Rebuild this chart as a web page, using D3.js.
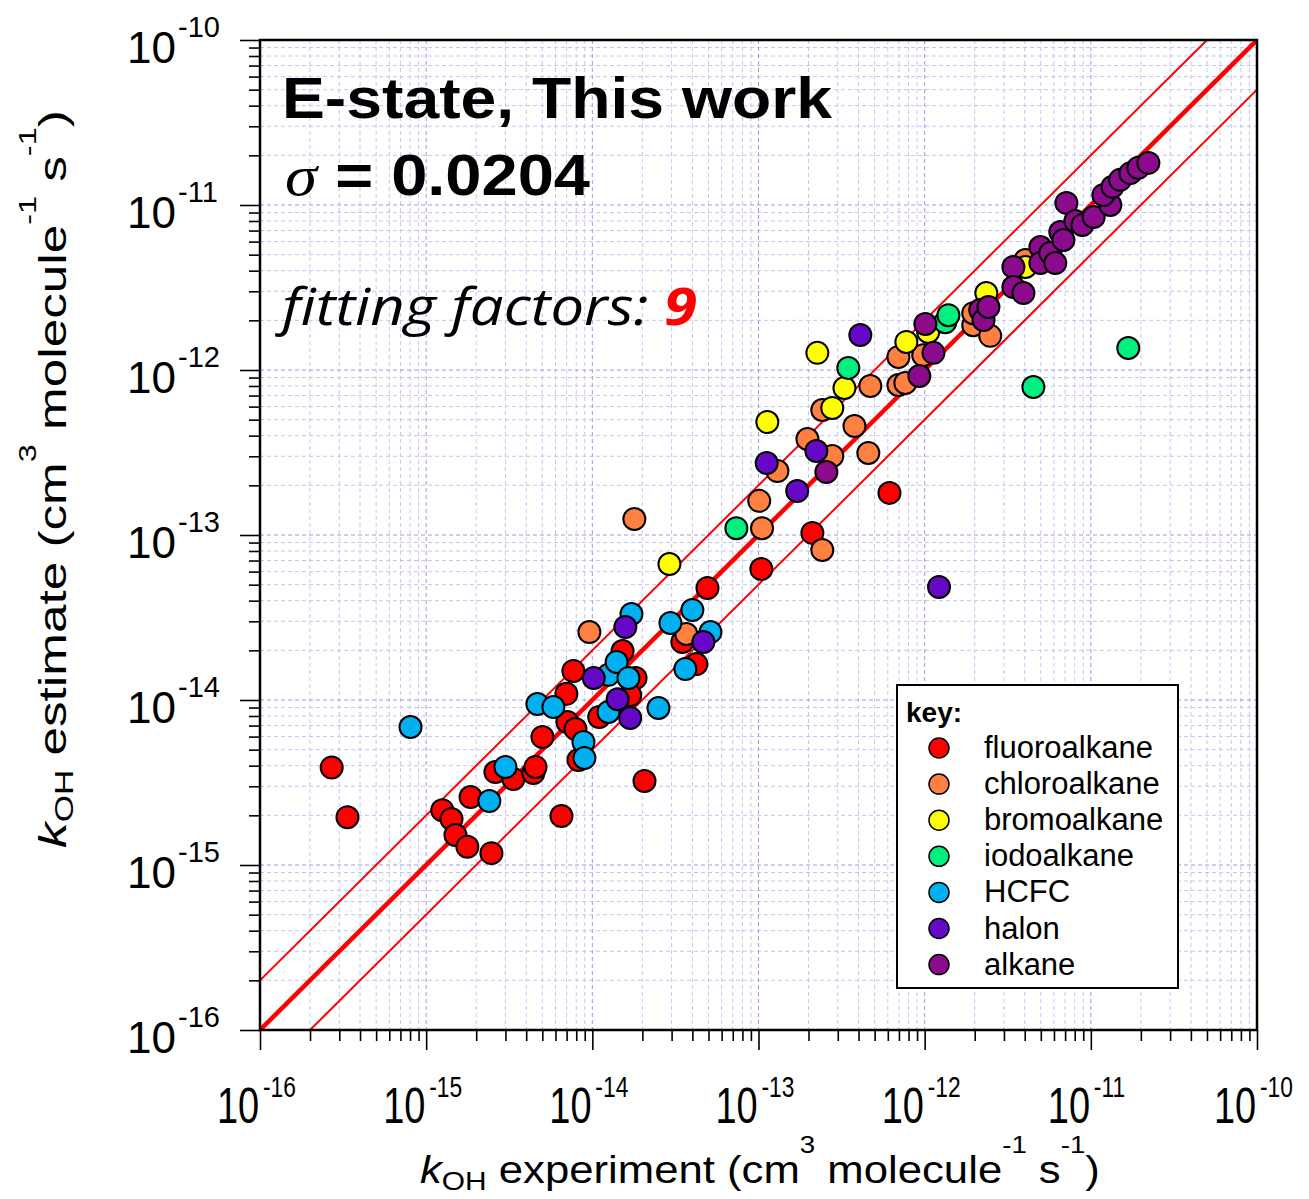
<!DOCTYPE html>
<html><head><meta charset="utf-8">
<script src="https://cdn.jsdelivr.net/npm/d3@7"></script>
<style>body{margin:0;background:#fff} svg{display:block}</style>
</head><body>
<svg id="c" width="1309" height="1199"></svg>
<script>
// ---------------- data ----------------
const categories = ["fluoroalkane","chloroalkane","bromoalkane","iodoalkane","HCFC","halon","alkane"];
const categoryColors = ["#ff0000","#ff8040","#ffff00","#00f080","#00b0f0","#6608c8","#8c0a8c"];
// [k_OH experiment, k_OH estimate]
const fluoroData = [[2.7e-16,3.9e-15],[3.36e-16,1.95e-15],[1.25e-15,2.15e-15],[1.42e-15,1.9e-15],[1.5e-15,1.52e-15],
 [1.77e-15,1.29e-15],[2.47e-15,1.18e-15],[1.85e-15,2.58e-15],[2.61e-15,3.66e-15],[3.35e-15,3.32e-15],[4.42e-15,3.61e-15],
 [4.55e-15,3.93e-15],[5.01e-15,5.97e-15],[6.98e-15,1.09e-14],[7.08e-15,7.36e-15],[7.91e-15,6.67e-15],[8.25e-15,4.33e-15],
 [6.52e-15,1.98e-15],[7.69e-15,1.5e-14],[1.52e-14,1.98e-14],[1.82e-14,1.36e-14],[1.69e-14,1.07e-14],[1.1e-14,7.89e-15],
 [2.06e-14,3.23e-15],[3.48e-14,2.25e-14],[4.23e-14,1.65e-14],[4.93e-14,4.77e-14],[1.04e-13,6.22e-14],[2.11e-13,1.03e-13],
 [6.14e-13,1.8e-13]];
const chloroData = [[9.6e-15,2.58e-14],[3.68e-14,2.51e-14],[1.79e-14,1.25e-13],[1.01e-13,1.61e-13],[1.05e-13,1.1e-13],
 [2.42e-13,8.11e-14],[1.3e-13,2.44e-13],[1.97e-13,3.82e-13],[2.78e-13,3.01e-13],[3.78e-13,4.58e-13],[4.58e-13,3.14e-13],
 [2.42e-13,5.72e-13],[4.71e-13,8.0e-13],[6.95e-13,8.11e-13],[6.95e-13,1.2e-12],[9.8e-13,1.23e-12],[7.65e-13,8.34e-13],
 [1.96e-12,1.87e-12],[1.96e-12,2.21e-12],[2.48e-12,1.61e-12],[4.04e-12,4.64e-12]];
const bromoData = [[2.91e-14,6.67e-14],[1.13e-13,4.84e-13],[2.26e-13,1.27e-12],[2.78e-13,5.89e-13],[3.29e-13,7.78e-13],
 [7.76e-13,1.48e-12],[1.05e-12,1.7e-12],[2.35e-12,2.93e-12],[4.04e-12,4.21e-12]];
const iodoData = [[7.36e-14,1.1e-13],[3.47e-13,1.03e-12],[1.33e-12,1.95e-12],[1.39e-12,2.15e-12],[4.51e-12,7.89e-13],
 [1.68e-11,1.36e-12]];
const hcfcData = [[8.05e-16,6.86e-15],[2.4e-15,2.44e-15],[3.0e-15,3.93e-15],[4.67e-15,9.46e-15],[5.83e-15,9.07e-15],
 [8.84e-15,5.56e-15],[8.96e-15,4.45e-15],[1.25e-14,1.42e-14],[1.4e-14,1.7e-14],[1.65e-14,1.36e-14],[1.25e-14,8.46e-15],
 [2.5e-14,8.95e-15],[1.72e-14,3.32e-14],[2.95e-14,2.93e-14],[4.0e-14,3.51e-14],[5.14e-14,2.58e-14],[3.63e-14,1.54e-14]];
const halonData = [[1.02e-14,1.36e-14],[1.42e-14,1.01e-14],[1.69e-14,7.78e-15],[1.58e-14,2.77e-14],[4.66e-14,2.25e-14],
 [1.12e-13,2.73e-13],[1.71e-13,1.85e-13],[2.23e-13,3.23e-13],[4.1e-13,1.63e-12],[1.22e-12,4.84e-14]];
const alkaneData = [[2.56e-13,2.41e-13],[9.29e-13,9.2e-13],[1.01e-12,1.9e-12],[1.13e-12,1.27e-12],[2.16e-12,2.31e-12],
 [2.26e-12,2.01e-12],[2.42e-12,2.41e-12],[3.42e-12,4.21e-12],[3.42e-12,3.18e-12],[3.93e-12,2.93e-12],[4.97e-12,5.56e-12],
 [4.97e-12,4.45e-12],[5.7e-12,5.12e-12],[6.11e-12,4.45e-12],[6.55e-12,6.86e-12],[6.84e-12,6.14e-12],[7.13e-12,1.03e-11],
 [8.07e-12,8.0e-12],[8.89e-12,7.57e-12],[1.04e-11,8.46e-12],[1.31e-11,1.0e-11],[1.19e-11,1.15e-11],[1.35e-11,1.29e-11],
 [1.5e-11,1.42e-11],[1.73e-11,1.56e-11],[1.93e-11,1.68e-11],[2.22e-11,1.8e-11]];
const tickExponents = [-16,-15,-14,-13,-12,-11,-10];
const fitFactors = [1, 2, 0.5]; // y = x, y = 2x, y = x/2
const titleText = "E-state, This work";
const sigmaText = "0.0204";
const fittingText = "fitting factors: ";
const fittingNumber = "9";

// ---------------- layout ----------------
const m = {left:260, right:1257, top:40, bottom:1030};
const x = d3.scaleLog().domain([1e-16,1e-10]).range([m.left,m.right]);
const y = d3.scaleLog().domain([1e-16,1e-10]).range([m.bottom,m.top]);
const svg = d3.select("#c");
const SANS = "'Liberation Sans', Arial, sans-serif";

svg.append("defs").append("clipPath").attr("id","plotclip")
  .append("rect").attr("x",m.left).attr("y",m.top).attr("width",m.right-m.left).attr("height",m.bottom-m.top);

const majorVals = tickExponents.map(e => Math.pow(10,e));
const minorVals = [];
tickExponents.slice(0,-1).forEach(e => { for (let k=2;k<=9;k++) minorVals.push(k*Math.pow(10,e)); });

// grid
const grid = svg.append("g");
grid.selectAll("line.vmin").data(minorVals).join("line")
  .attr("x1",d=>x(d)).attr("x2",d=>x(d)).attr("y1",m.top).attr("y2",m.bottom)
  .attr("stroke","#c4c4f6").attr("stroke-width",1).attr("stroke-dasharray","4,3");
grid.selectAll("line.hmin").data(minorVals).join("line")
  .attr("y1",d=>y(d)).attr("y2",d=>y(d)).attr("x1",m.left).attr("x2",m.right)
  .attr("stroke","#c4c4f6").attr("stroke-width",1).attr("stroke-dasharray","4,3");
grid.selectAll("line.vmaj").data(majorVals).join("line")
  .attr("x1",d=>x(d)).attr("x2",d=>x(d)).attr("y1",m.top).attr("y2",m.bottom)
  .attr("stroke","#9a9aee").attr("stroke-width",1).attr("stroke-dasharray","4,3");
grid.selectAll("line.hmaj").data(majorVals).join("line")
  .attr("y1",d=>y(d)).attr("y2",d=>y(d)).attr("x1",m.left).attr("x2",m.right)
  .attr("stroke","#9a9aee").attr("stroke-width",1).attr("stroke-dasharray","4,3");

// fit lines
const lines = svg.append("g").attr("clip-path","url(#plotclip)");
fitFactors.forEach((f,i) => {
  lines.append("line")
    .attr("x1",x(1e-16)).attr("y1",y(1e-16*f))
    .attr("x2",x(1e-10)).attr("y2",y(1e-10*f))
    .attr("stroke","#ff0000").attr("stroke-width", i===0 ? 4.5 : 2);
});

// axes
function styleAxis(g){ g.select(".domain").remove(); g.selectAll(".tick line").attr("stroke","#000").attr("stroke-width",1.6); }
svg.append("g").attr("transform",`translate(0,${m.bottom})`)
  .call(d3.axisBottom(x).tickValues(minorVals).tickSize(11).tickFormat("")).call(styleAxis);
svg.append("g").attr("transform",`translate(0,${m.bottom})`)
  .call(d3.axisBottom(x).tickValues(majorVals).tickSize(20).tickFormat("")).call(styleAxis);
svg.append("g").attr("transform",`translate(${m.left},0)`)
  .call(d3.axisLeft(y).tickValues(minorVals).tickSize(11).tickFormat("")).call(styleAxis);
svg.append("g").attr("transform",`translate(${m.left},0)`)
  .call(d3.axisLeft(y).tickValues(majorVals).tickSize(20).tickFormat("")).call(styleAxis);

// frame
svg.append("rect").attr("x",m.left).attr("y",m.top).attr("width",m.right-m.left).attr("height",m.bottom-m.top)
  .attr("fill","none").attr("stroke","#000").attr("stroke-width",2.5);

// tick labels x
tickExponents.forEach(e => {
  const g = svg.append("g").attr("transform",`translate(${x(Math.pow(10,e))},1123) scale(0.76,1)`)
    .attr("font-family",SANS).attr("fill","#000");
  g.append("text").attr("x",-1).attr("text-anchor","end").attr("font-size",50).text("10");
  g.append("text").attr("x",4).attr("y",-26).attr("text-anchor","start").attr("font-size",30).text(String(e));
});
// tick labels y
tickExponents.forEach(e => {
  const ty = y(Math.pow(10,e));
  const g = svg.append("g").attr("font-family",SANS).attr("fill","#000");
  g.append("text").attr("x",176).attr("y",ty+23).attr("text-anchor","end").attr("font-size",44).text("10");
  g.append("text").attr("x",178).attr("y",ty-3).attr("text-anchor","start").attr("font-size",29).text(String(e));
});

// axis titles
function axisTitle(parent, mid){
  const t = parent.append("text").attr("font-family",SANS).attr("font-size",38).attr("fill","#000").attr("text-anchor","start");
  t.append("tspan").attr("font-style","italic").text("k");
  t.append("tspan").attr("font-size",26).attr("dy",7).text("OH");
  t.append("tspan").attr("dy",-7).text(mid + " (cm");
  t.append("tspan").attr("font-size",24).attr("dy",-30).text("3");
  t.append("tspan").attr("dy",30).text(" molecule");
  t.append("tspan").attr("font-size",24).attr("dy",-30).text("-1");
  t.append("tspan").attr("dy",30).text("  s");
  t.append("tspan").attr("font-size",24).attr("dy",-30).text("-1");
  t.append("tspan").attr("dy",30).text(")");
  return t;
}
const xt = svg.append("g");
const xtt = axisTitle(xt, " experiment");
{ const w = xtt.node().getComputedTextLength(); xt.attr("transform",`translate(420,1183) scale(${680/w},1)`); }
const yt = svg.append("g");
const ytt = axisTitle(yt, " estimate");
{ const w = ytt.node().getComputedTextLength(); yt.attr("transform",`translate(66,848) rotate(-90) scale(${738/w},1)`); }

// points
const seriesData = [fluoroData, chloroData, bromoData, iodoData, hcfcData, halonData, alkaneData];
seriesData.forEach((data,i) => {
  svg.append("g").selectAll("circle").data(data).join("circle")
    .attr("cx",d=>x(d[0])).attr("cy",d=>y(d[1])).attr("r",11)
    .attr("fill",categoryColors[i]).attr("stroke","#000").attr("stroke-width",2);
});

// annotations
function fitWidth(g, t, x0, y0, target){
  const w = t.node().getComputedTextLength();
  g.attr("transform",`translate(${x0},${y0}) scale(${target/w},1)`);
}
{
  const g = svg.append("g");
  const t = g.append("text").attr("font-family",SANS).attr("font-weight","bold").attr("font-size",58).attr("fill","#000").text(titleText);
  fitWidth(g,t,282,118,550);
}
{
  const g = svg.append("g");
  const t = g.append("text").attr("font-size",58).attr("fill","#000");
  t.append("tspan").attr("font-family","'Liberation Serif', serif").attr("font-style","italic").text("σ");
  t.append("tspan").attr("font-family",SANS).attr("font-weight","bold").text(" = " + sigmaText);
  fitWidth(g,t,285,195,305);
}
{
  const g = svg.append("g");
  const t = g.append("text").attr("font-family","'Open Sans', sans-serif").attr("font-style","italic").attr("font-size",52).attr("fill","#000");
  t.append("tspan").text(fittingText);
  t.append("tspan").attr("font-weight","bold").attr("fill","#ff0000").text(fittingNumber);
  fitWidth(g,t,282,325,415);
}

// legend
const lg = svg.append("g");
lg.append("rect").attr("x",897).attr("y",685).attr("width",281).attr("height",303)
  .attr("fill","#fff").attr("stroke","#000").attr("stroke-width",2);
lg.append("text").attr("x",906).attr("y",722).attr("font-family",SANS).attr("font-weight","bold").attr("font-size",28).text("key:");
categories.forEach((c,i) => {
  const cy = 748 + i*36.1;
  lg.append("circle").attr("cx",939).attr("cy",cy).attr("r",10).attr("fill",categoryColors[i]).attr("stroke","#000").attr("stroke-width",1.5);
  lg.append("text").attr("x",984).attr("y",cy+10).attr("font-family",SANS).attr("font-size",31).attr("fill","#000").text(c);
});
</script>
</body></html>
